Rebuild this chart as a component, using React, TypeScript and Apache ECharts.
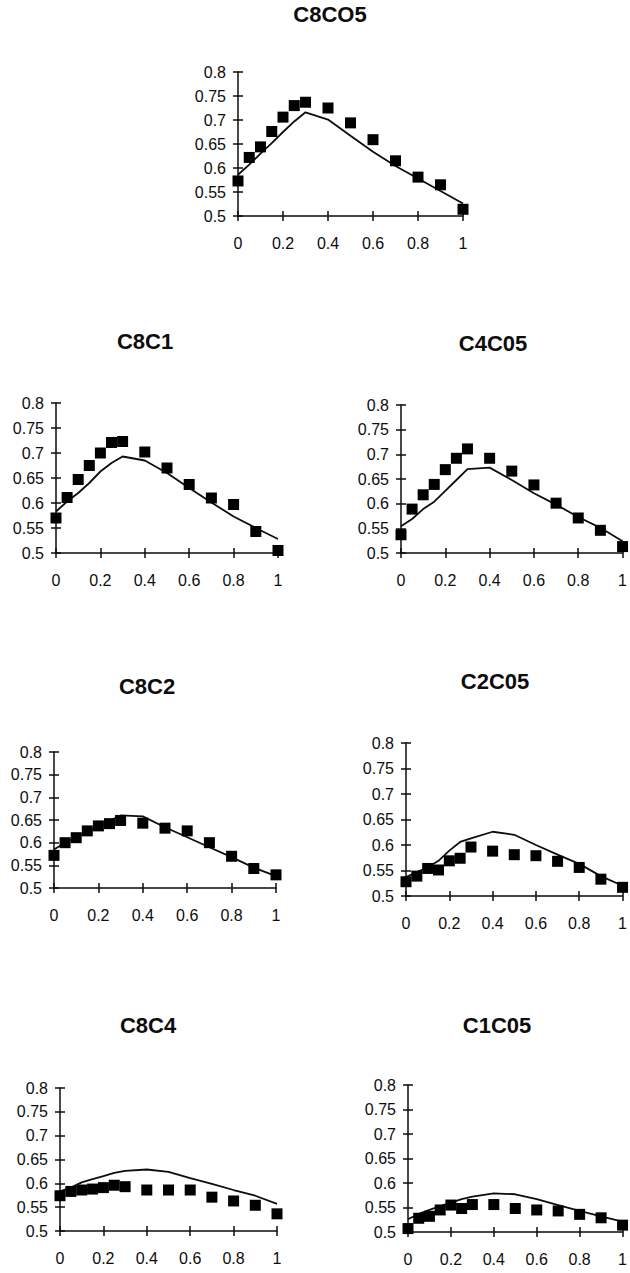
import React, { useEffect, useRef } from "react";
import * as echarts from "echarts";

// Shared x positions for observed points and model curve
const xPoints = [0, 0.05, 0.1, 0.15, 0.2, 0.25, 0.3, 0.4, 0.5, 0.6, 0.7, 0.8, 0.9, 1];
const xTicks = [0, 0.2, 0.4, 0.6, 0.8, 1];
const yTicks = [0.5, 0.55, 0.6, 0.65, 0.7, 0.75, 0.8];

const titles = ["C8CO5", "C8C1", "C4C05", "C8C2", "C2C05", "C8C4", "C1C05"];

const obsC8CO5 = [0.573, 0.622, 0.644, 0.676, 0.706, 0.730, 0.737, 0.725, 0.694, 0.659, 0.615, 0.581, 0.565, 0.514];
const modC8CO5 = [0.586, 0.607, 0.630, 0.652, 0.675, 0.697, 0.716, 0.701, 0.667, 0.634, 0.604, 0.578, 0.552, 0.526];

const obsC8C1 = [0.570, 0.611, 0.647, 0.675, 0.700, 0.721, 0.723, 0.702, 0.670, 0.637, 0.610, 0.597, 0.543, 0.505];
const modC8C1 = [0.583, 0.603, 0.620, 0.640, 0.663, 0.680, 0.693, 0.685, 0.660, 0.630, 0.601, 0.573, 0.550, 0.528];

const obsC4C05 = [0.537, 0.589, 0.618, 0.639, 0.669, 0.692, 0.711, 0.692, 0.666, 0.638, 0.601, 0.571, 0.546, 0.513];
const modC4C05 = [0.554, 0.569, 0.589, 0.604, 0.626, 0.648, 0.670, 0.673, 0.648, 0.621, 0.598, 0.573, 0.551, 0.524];

const obsC8C2 = [0.572, 0.600, 0.611, 0.626, 0.637, 0.642, 0.649, 0.643, 0.632, 0.626, 0.600, 0.570, 0.543, 0.529];
const modC8C2 = [0.585, 0.600, 0.612, 0.624, 0.634, 0.648, 0.660, 0.658, 0.634, 0.612, 0.590, 0.568, 0.545, 0.526];

const obsC2C05 = [0.528, 0.539, 0.554, 0.551, 0.569, 0.574, 0.596, 0.588, 0.581, 0.579, 0.568, 0.556, 0.533, 0.517];
const modC2C05 = [0.537, 0.547, 0.556, 0.569, 0.589, 0.606, 0.613, 0.626, 0.620, 0.600, 0.581, 0.563, 0.539, 0.520];

const obsC8C4 = [0.574, 0.583, 0.586, 0.588, 0.591, 0.596, 0.593, 0.586, 0.586, 0.586, 0.571, 0.563, 0.554, 0.536];
const modC8C4 = [0.583, 0.591, 0.602, 0.609, 0.615, 0.622, 0.626, 0.629, 0.624, 0.611, 0.599, 0.586, 0.574, 0.557];

const obsC1C05 = [0.507, 0.528, 0.532, 0.545, 0.555, 0.548, 0.556, 0.556, 0.548, 0.545, 0.543, 0.536, 0.529, 0.514];
const modC1C05 = [0.526, 0.537, 0.545, 0.553, 0.560, 0.567, 0.572, 0.579, 0.577, 0.567, 0.555, 0.543, 0.532, 0.521];

const observed = [obsC8CO5, obsC8C1, obsC4C05, obsC8C2, obsC2C05, obsC8C4, obsC1C05];
const modeled = [modC8CO5, modC8C1, modC4C05, modC8C2, modC2C05, modC8C4, modC1C05];

// Layout (pixels)
const grids = [
  { left: 238, top: 72, width: 225, height: 144 },
  { left: 56, top: 403, width: 222, height: 150 },
  { left: 401, top: 405, width: 225, height: 148 },
  { left: 54, top: 752, width: 222, height: 136 },
  { left: 406, top: 743, width: 220, height: 153 },
  { left: 60, top: 1088, width: 217, height: 143 },
  { left: 408, top: 1085, width: 218, height: 147 },
];
const titlePos = [
  [330, 16],
  [145, 343],
  [493, 345],
  [147, 688],
  [495, 683],
  [148, 1027],
  [497, 1027],
];

const INK = "#0d0d0d";
const FONT = "Liberation Sans";

export default function App() {
  const ref = useRef<HTMLDivElement>(null);

  useEffect(() => {
    if (!ref.current) return;
    const chart = echarts.init(ref.current, undefined, { renderer: "svg" });

    const xAxes: any[] = [];
    const yAxes: any[] = [];
    const series: any[] = [];

    grids.forEach((g, i) => {
      const xMin = xTicks[0];
      const xMax = xTicks[xTicks.length - 1];
      const yMin = yTicks[0];
      const yMax = yTicks[yTicks.length - 1];
      const common = {
        gridIndex: i,
        type: "value",
        splitLine: { show: false },
      };
      xAxes.push({
        ...common,
        position: "bottom",
        min: xMin,
        max: xMax,
        interval: 0.2,
        axisLine: { show: true, onZero: false, lineStyle: { color: INK, width: 1.5 } },
        axisTick: { show: true, length: 5, lineStyle: { color: INK, width: 1.5 } },
        axisLabel: {
          color: INK,
          fontSize: 16,
          fontFamily: FONT,
          margin: 19,
          formatter: (v: number) => String(+v.toFixed(2)),
        },
      });
      xAxes.push({
        ...common,
        position: "bottom",
        min: xMin,
        max: xMax,
        interval: 0.2,
        axisLine: { show: false },
        axisTick: { show: true, inside: true, length: 5, lineStyle: { color: INK, width: 1.5 } },
        axisLabel: { show: false },
      });
      yAxes.push({
        ...common,
        position: "left",
        min: yMin,
        max: yMax,
        interval: 0.05,
        axisLine: { show: true, onZero: false, lineStyle: { color: INK, width: 1.5 } },
        axisTick: { show: true, length: 5, lineStyle: { color: INK, width: 1.5 } },
        axisLabel: {
          color: INK,
          fontSize: 16,
          fontFamily: FONT,
          margin: 12,
          formatter: (v: number) => String(+v.toFixed(2)),
        },
      });
      yAxes.push({
        ...common,
        position: "left",
        min: yMin,
        max: yMax,
        interval: 0.05,
        axisLine: { show: false },
        axisTick: { show: true, inside: true, length: 5, lineStyle: { color: INK, width: 1.5 } },
        axisLabel: { show: false },
      });

      series.push({
        type: "line",
        name: titles[i] + " model",
        xAxisIndex: 2 * i,
        yAxisIndex: 2 * i,
        data: xPoints.map((x, k) => [x, modeled[i][k]]),
        showSymbol: false,
        symbol: "none",
        lineStyle: { color: INK, width: 1.8 },
        z: 2,
        clip: false,
      });
      series.push({
        type: "scatter",
        name: titles[i] + " data",
        xAxisIndex: 2 * i,
        yAxisIndex: 2 * i,
        data: xPoints.map((x, k) => [x, observed[i][k]]),
        symbol: "rect",
        symbolSize: 11,
        itemStyle: { color: "#000", opacity: 1 },
        z: 3,
        clip: false,
      });
    });

    chart.setOption({
      animation: false,
      backgroundColor: "#ffffff",
      title: titles.map((t, i) => ({
        text: t,
        left: titlePos[i][0],
        top: titlePos[i][1] - 13,
        textAlign: "center",
        padding: 0,
        textStyle: { fontFamily: FONT, fontSize: 22, fontWeight: "bold", color: INK },
      })),
      grid: grids.map((g) => ({ ...g, containLabel: false })),
      xAxis: xAxes,
      yAxis: yAxes,
      series,
    });

    return () => chart.dispose();
  }, []);

  return (
    <div
      ref={ref}
      style={{ position: "absolute", left: 0, top: 0, width: 630, height: 1273, background: "#fff" }}
    />
  );
}
